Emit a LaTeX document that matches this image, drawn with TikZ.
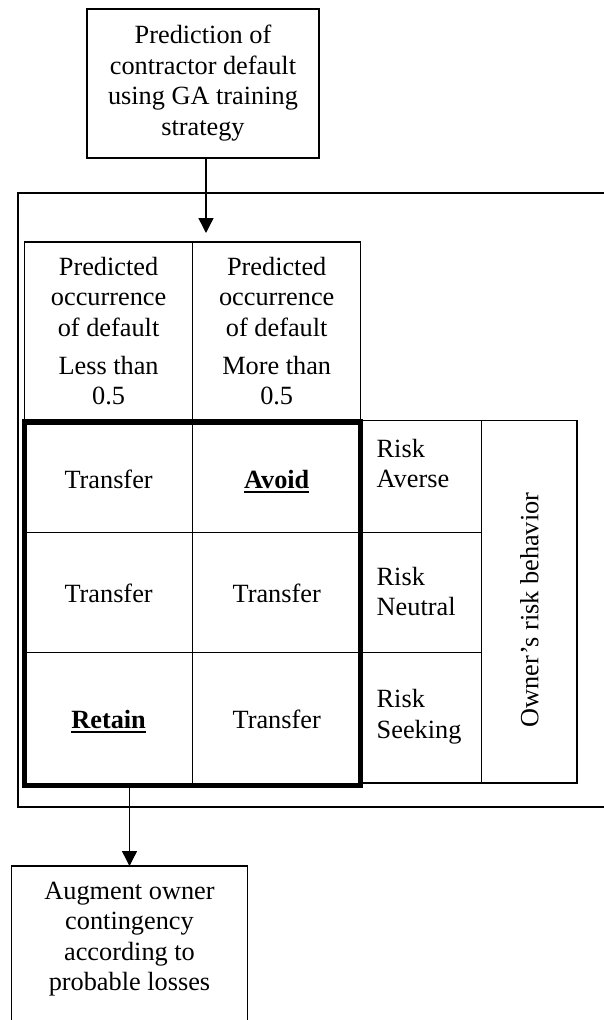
\documentclass[tikz,border=0pt]{standalone}
\usepackage{fontspec}
\setmainfont{Liberation Serif}
\usetikzlibrary{arrows.meta}
\newcommand\cellfont{\fontsize{26.3}{30.5}\selectfont}
\newcommand\mlc[1]{\begin{tabular}[t]{@{}c@{}}#1\end{tabular}}
\newcommand\mll[1]{\begin{tabular}[t]{@{}l@{}}#1\end{tabular}}
\newsavebox{\ulbox}
\newcommand\myul[1]{\sbox\ulbox{#1}\rlap{\rule[-4.6pt]{\wd\ulbox}{1.8pt}}\usebox\ulbox}
\begin{document}
\begin{tikzpicture}[x=1pt,y=-1pt,
  cellbox/.style={draw, line width=1.4pt, inner sep=0pt, outer sep=0pt},
  txt/.style={font=\cellfont, inner sep=0pt, outer sep=0pt, anchor=base},
  arr/.style={line width=1.4pt, -{Triangle[length=15pt,width=15pt]}},
  heavy/.style={line width=5.5pt, line join=miter}]
\useasboundingbox (0,0) rectangle (603,1020);
\fill[white] (0,0) rectangle (603,1020);

% top box
\node[cellbox, font=\cellfont, minimum width=232.3pt, minimum height=149pt] (pred) at (203,83.5)
  {\mlc{Prediction of\\contractor default\\using GA training\\strategy}};

% outer frame (open at the right)
\draw[line width=1.4pt] (610,193) -- (18,193) -- (18,807) -- (610,807);

% header cells
\node[cellbox, minimum width=168.2pt, minimum height=180pt] (h1) at (108.6,332) {};
\node[cellbox, minimum width=168pt, minimum height=180pt] (h2) at (276.7,332) {};
\node[txt] (ht1) at (108.6,275) {\mlc{Predicted\\occurrence\\of default\\[7.5pt]Less than\\0.5}};
\node[txt] (ht2) at (276.7,275) {\mlc{Predicted\\occurrence\\of default\\[7.5pt]More than\\0.5}};

% decision grid
\node[cellbox, minimum width=168.2pt, minimum height=110.7pt] (c11) at (108.6,477.35) {};
\node[cellbox, minimum width=168pt, minimum height=110.7pt] (c12) at (276.7,477.35) {};
\node[cellbox, minimum width=168.2pt, minimum height=120pt] (c21) at (108.6,592.7) {};
\node[cellbox, minimum width=168pt, minimum height=120pt] (c22) at (276.7,592.7) {};
\node[cellbox, minimum width=168.2pt, minimum height=132.6pt] (c31) at (108.6,719) {};
\node[cellbox, minimum width=168pt, minimum height=132.6pt] (c32) at (276.7,719) {};

% risk behaviour table
\node[cellbox, minimum width=121pt, minimum height=112pt] (k1) at (421.2,476.7) {};
\node[cellbox, minimum width=121pt, minimum height=120pt] (k2) at (421.2,592.7) {};
\node[cellbox, minimum width=121pt, minimum height=130.3pt] (k3) at (421.2,717.85) {};
\node[cellbox, minimum width=95.3pt, minimum height=362.3pt] (own) at (529.35,601.85) {};

% heavy frame round the grid
\draw[heavy] (c11.north west) rectangle (c32.south east);

% grid texts
\node[txt] (t11) at (108.6,488) {Transfer};
\node[txt] (t12) at (276.7,488) {\myul{\textbf{Avoid}}};
\node[txt] (t21) at (108.6,602) {Transfer};
\node[txt] (t22) at (276.7,602) {Transfer};
\node[txt] (t31) at (108.6,728) {\myul{\textbf{Retain}}};
\node[txt] (t32) at (276.7,728) {Transfer};

% risk texts
\node[txt, anchor=base west] (rk1) at (376.7,457) {\mll{Risk\\Averse}};
\node[txt, anchor=base west] (rk2) at (376.7,585) {\mll{Risk\\Neutral}};
\node[txt, anchor=base west] (rk3) at (376.7,707.5) {\mll{Risk\\Seeking}};
\node[txt, anchor=center, rotate=90] (ownt) at (529.4,610) {Owner’s risk behavior};

% bottom box (open at the bottom)
\node[inner sep=0pt, outer sep=0pt, font=\cellfont, minimum width=235.6pt, minimum height=145.3pt] (aug) at (129.5,938.65)
  {\mlc{Augment owner\\contingency\\according to\\probable losses}};
\coordinate (bot) at (0,1025);
\draw[line width=1.4pt] (aug.north west |- bot) -- (aug.north west) -- (aug.north east) -- (aug.north east |- bot);

% connectors
\coordinate (tip1) at (206,233);
\draw[arr] (pred.south -| tip1) -- (tip1);
\draw[arr] (c31.south -| aug.north) -- (aug.north);
\end{tikzpicture}
\end{document}
